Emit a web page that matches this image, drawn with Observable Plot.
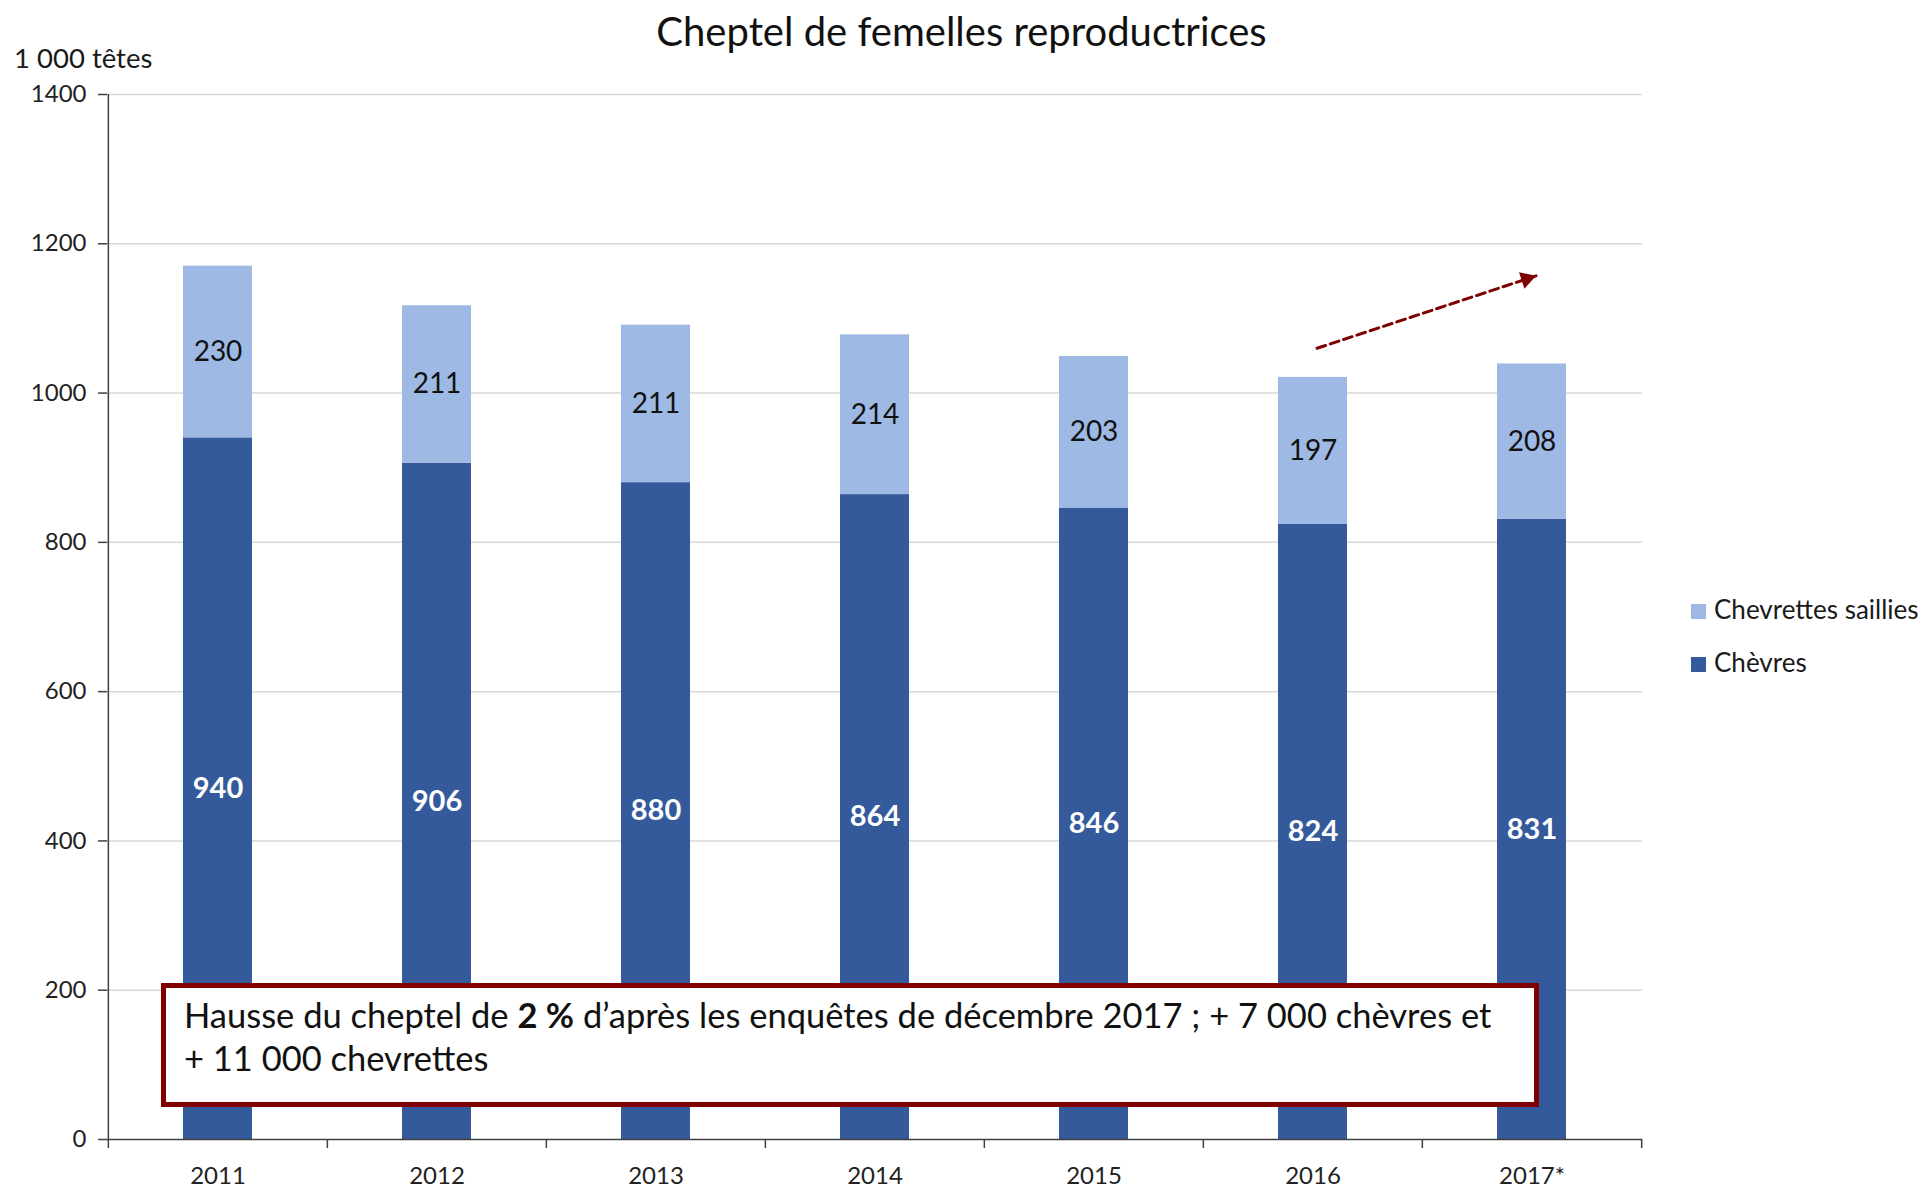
<!DOCTYPE html>
<html>
<head>
<meta charset="utf-8">
<script src="https://cdn.jsdelivr.net/npm/d3@7"></script>
<script src="https://cdn.jsdelivr.net/npm/@observablehq/plot@0.6"></script>
<style>
  html, body { margin: 0; padding: 0; background: #fff; }
  #wrap { position: relative; width: 1923px; height: 1189px; font-family: Lato, "Open Sans", sans-serif; color: #1a1a1a; overflow: hidden; background: #fff; }
  #chart { position: absolute; left: 0; top: 60px; z-index: 0; }
  #title { position: absolute; left: 0; width: 1923px; top: 11px; text-align: center; font-size: 40px; line-height: 40px; color: #111; z-index: 2; }
  #unit { position: absolute; left: 14px; top: 44px; font-size: 27.5px; line-height: 27.5px; color: #1a1a1a; z-index: 2; }
  .leg { position: absolute; left: 1691px; font-size: 26px; line-height: 26px; color: #1a1a1a; white-space: nowrap; z-index: 2; }
  .leg span.sw { display: inline-block; width: 15px; height: 15px; margin-right: 8px; vertical-align: 0px; }
  #note { position: absolute; left: 161px; top: 983px; width: 1378px; height: 124px; box-sizing: border-box; z-index: 2;
          border: 5px solid #800000; background: #fff; padding: 5px 0 0 18px; font-size: 34.5px; line-height: 43px; color: #111; white-space: nowrap; }
</style>
</head>
<body>
<div id="wrap">
  <div id="chart"></div>
  <div id="title"></div>
  <div id="unit"></div>
  <div id="legend"></div>
  <div id="note">Hausse du cheptel de <b>2&nbsp;%</b> d’après les enquêtes de décembre 2017 ; +&nbsp;7&nbsp;000 chèvres et<br>+&nbsp;11&nbsp;000 chevrettes</div>
</div>
<script>
// ---- data ----
const title = "Cheptel de femelles reproductrices";
const unitLabel = "1 000 têtes";
const years = ["2011", "2012", "2013", "2014", "2015", "2016", "2017*"];
const series = ["Chèvres", "Chevrettes saillies"];
const chevres = [940, 906, 880, 864, 846, 824, 831];
const chevrettes = [230, 211, 211, 214, 203, 197, 208];
const yTicks = [0, 200, 400, 600, 800, 1000, 1200, 1400];
const trendX = ["2016", "2017*"];
const trendY = [1060, 1157];

// ---- styling ----
const colors = ["#345A9C", "#9EB9E3"];
const axisColor = "#404040";

document.getElementById("title").textContent = title;
document.getElementById("unit").textContent = unitLabel;

// legend (top series first, as in the reference)
const legend = document.getElementById("legend");
[[1, 596], [0, 649]].forEach(([k, top]) => {
  const d = document.createElement("div");
  d.className = "leg";
  d.style.top = top + "px";
  d.innerHTML = `<span class="sw" style="background:${colors[k]}"></span>${series[k]}`;
  legend.appendChild(d);
});

const data = years.flatMap((yr, i) => [
  {year: yr, series: series[0], value: chevres[i]},
  {year: yr, series: series[1], value: chevrettes[i]}
]);
const lowLabels = years.map((yr, i) => ({year: yr, y: chevres[i] / 2, text: String(chevres[i])}));
const topLabels = years.map((yr, i) => ({year: yr, y: chevres[i] + chevrettes[i] / 2, text: String(chevrettes[i])}));
const trend = trendX.map((x, i) => ({x, y: trendY[i]}));

const W = 1923, H = 1129;
const mL = 107, mR = 281, mT = 34, mB = 50;
const step = (W - mL - mR) / years.length;

const chart = Plot.plot({
  width: W, height: H,
  marginLeft: mL, marginRight: mR, marginTop: mT, marginBottom: mB,
  style: {fontFamily: "Lato, 'Open Sans', sans-serif", background: "transparent", color: axisColor, overflow: "visible"},
  x: {domain: years, paddingInner: 0.685, paddingOuter: 0.3425, axis: null, label: null},
  y: {domain: [0, 1400], axis: null, label: null},
  color: {domain: series, range: colors},
  marks: [
    Plot.ruleY(yTicks.filter(d => d > 0), {stroke: "#d9d9d9", strokeWidth: 1.5}),
    Plot.barY(data, {x: "year", y: "value", fill: "series"}),
    Plot.text(lowLabels, {x: "year", y: "y", text: "text", fill: "white", fontWeight: "bold", fontSize: 29}),
    Plot.text(topLabels, {x: "year", y: "y", text: "text", fill: "#111", fontSize: 28}),
    Plot.ruleY([0], {stroke: axisColor, strokeWidth: 1.5}),
    Plot.ruleX(years, {x: d => d, dx: -step / 2, y1: -12, y2: d => d === years[0] ? 1400 : 0, stroke: axisColor, strokeWidth: 1.5}),
    Plot.ruleX([years[years.length - 1]], {x: d => d, dx: step / 2, y1: -12, y2: 0, stroke: axisColor, strokeWidth: 1.5}),
    Plot.axisY(yTicks, {tickSize: 9, tickPadding: 12, fontSize: 24, fill: "#222", stroke: axisColor, strokeWidth: 1.5, label: null, tickFormat: d => String(d)}),
    Plot.axisX({tickSize: 0, tickPadding: 27, fontSize: 24, fill: "#222", label: null}),
    Plot.line(trend, {x: "x", y: "y", dx: 4, stroke: "#7F0000", strokeWidth: 3, strokeDasharray: "9,5"}),
    Plot.dot([trend[1]], {x: "x", y: "y", dx: 4 - 9.5, dy: 3.1, r: 6.5, symbol: "triangle", rotate: 72, fill: "#7F0000", stroke: "none"})
  ]
});
document.getElementById("chart").appendChild(chart);
</script>
</body>
</html>
